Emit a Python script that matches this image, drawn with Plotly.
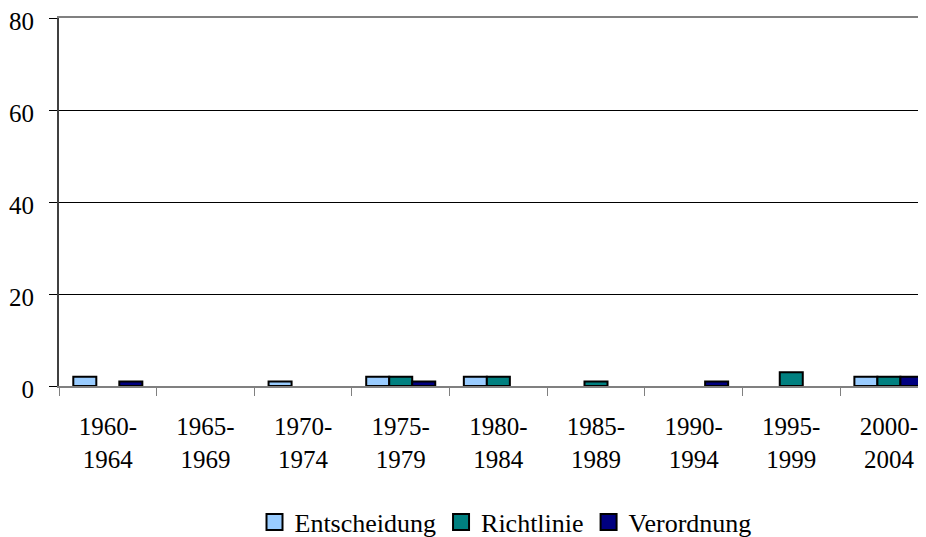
import plotly.graph_objects as go

categories = ["1960-<br>1964", "1965-<br>1969", "1970-<br>1974", "1975-<br>1979", "1980-<br>1984",
              "1985-<br>1989", "1990-<br>1994", "1995-<br>1999", "2000-<br>2004"]
entscheidung = [2, 0, 1, 2, 2, 0, 0, 0, 2]
richtlinie = [0, 0, 0, 2, 2, 1, 0, 3, 2]
verordnung = [1, 0, 0, 1, 0, 0, 1, 0, 2]
y_ticks = [0, 20, 40, 60, 80]

series = [("Entscheidung", entscheidung, "#99CCFF"),
          ("Richtlinie", richtlinie, "#008080"),
          ("Verordnung", verordnung, "#000080")]

fig = go.Figure()
for name, vals, col in series:
    # zero values are drawn as no bar at all (as in the reference)
    fig.add_trace(go.Bar(name=name, x=categories, y=[v if v else None for v in vals],
                         showlegend=False,
                         marker=dict(color=col, line=dict(color="black", width=2))))
for name, vals, col in series:
    fig.add_trace(go.Scatter(name=name, x=[None], y=[None], mode="markers",
                             marker=dict(symbol="square", size=16, color=col,
                                         line=dict(color="black", width=2))))

font = "Liberation Serif"
fig.update_layout(
    width=918, height=529,
    margin=dict(l=51, r=0, t=10, b=151),
    paper_bgcolor="white", plot_bgcolor="white",
    barmode="group", bargap=0.293, bargroupgap=0,
    font=dict(family=font, size=25, color="black"),
    showlegend=True,
    legend=dict(orientation="h", xref="paper", x=0.515, xanchor="center",
                yref="container", y=0.028, yanchor="middle",
                font=dict(family=font, size=26), itemwidth=30, traceorder="normal"),
    xaxis=dict(type="category", range=[-0.5, 8.38], tickson="boundaries",
               ticks="outside", ticklen=8, tickcolor="#808080", tickwidth=1,
               showline=True, linecolor="#808080", linewidth=2, mirror=True,
               showgrid=False, ticklabelstandoff=17, automargin=False,
               ticklabeloverflow="allow",
               tickfont=dict(family=font, size=25)),
    yaxis=dict(range=[0, 80], tickvals=y_ticks, ticks="outside", ticklen=8,
               tickcolor="black", showline=True, linecolor="#404040", linewidth=2,
               showgrid=True, gridcolor="black", gridwidth=1, zeroline=False,
               ticklabelstandoff=10, ticklabelshift=3, automargin=False,
               ticklabeloverflow="allow",
               tickfont=dict(family=font, size=25)),
)
fig.write_html("out.html")
